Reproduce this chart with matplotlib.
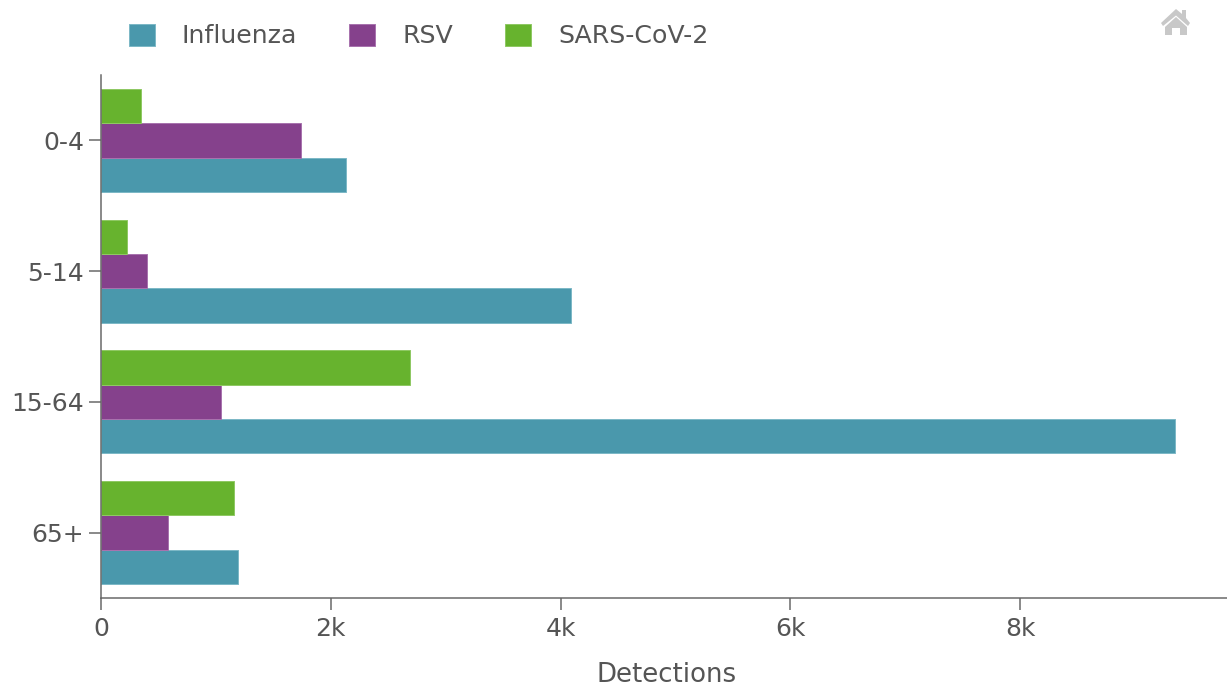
import matplotlib.pyplot as plt
from matplotlib.patches import Polygon
import numpy as np

age_groups = ['0-4', '5-14', '15-64', '65+']
influenza = [2132, 4090, 9347, 1192]
rsv = [1741, 400, 1044, 583]
sars = [348, 226, 2689, 1157]
x_ticks = [0, 2000, 4000, 6000, 8000]
x_labels = ['0', '2k', '4k', '6k', '8k']

W = 1227
H = 687
dpi = 100
px = 72 / dpi  # points per pixel

plt.rcParams['font.family'] = 'DejaVu Sans'
text_col = '#555555'
axis_col = '#666666'

fig = plt.figure(figsize=(W / dpi, H / dpi), dpi=dpi)
ax = fig.add_axes([101 / W, 1 - 598 / H, (W - 101) / W, (598 - 75) / H])

y = np.arange(len(age_groups))
h = 0.262
edge = dict(linewidth=1 * px)
ax.barh(y + h, influenza, h, color='#4A98AC', edgecolor='#7DB8C6', label='Influenza', **edge)
ax.barh(y, rsv, h, color='#85418C', edgecolor='#A873AE', label='RSV', **edge)
ax.barh(y - h, sars, h, color='#67B32E', edgecolor='#8FC864', label='SARS-CoV-2', **edge)

ax.set_xlim(0, (W - 101) / 114.9 * 1000)
ax.set_ylim(3.5, -0.5)
ax.set_yticks(y)
ax.set_yticklabels(age_groups)
ax.set_xticks(x_ticks)
ax.set_xticklabels(x_labels)
ax.tick_params(axis='x', length=12 * px, width=1.5 * px, color=axis_col,
               labelcolor=text_col, labelsize=25 * px, pad=7 * px)
ax.tick_params(axis='y', length=12 * px, width=1.5 * px, color=axis_col,
               labelcolor=text_col, labelsize=25 * px, pad=5 * px)
for s in ['top', 'right']:
    ax.spines[s].set_visible(False)
for s in ['left', 'bottom']:
    ax.spines[s].set_color(axis_col)
    ax.spines[s].set_linewidth(1.5 * px)

fig.text(667 / W, 1 - 675 / H, 'Detections', color=text_col, fontsize=26 * px,
         ha='center', va='center')

fs = 25.2
ax.legend(loc='center left', bbox_to_anchor=(129 / W, 1 - 36 / H), bbox_transform=fig.transFigure,
          ncols=3, frameon=False, fontsize=fs * px, labelcolor=text_col,
          handlelength=26 / fs, handleheight=24 / fs, handletextpad=27 / fs,
          columnspacing=52 / fs, borderpad=0, borderaxespad=0)

# home icon top right
roof = [(1161, 23), (1176, 9), (1182, 14), (1182, 10), (1186, 10), (1186, 18),
        (1190, 23), (1188, 26), (1176, 15.5), (1163, 26)]
body = [(1176, 17), (1187, 27), (1187, 35), (1180, 35), (1180, 28), (1172, 28),
        (1172, 35), (1165, 35), (1165, 27)]
for icon in [roof, body]:
    fig.add_artist(Polygon([(a / W, 1 - b / H) for a, b in icon], closed=True,
                           transform=fig.transFigure, facecolor='#C8C8C8', edgecolor='none'))

fig.savefig('out.png', dpi=dpi)
